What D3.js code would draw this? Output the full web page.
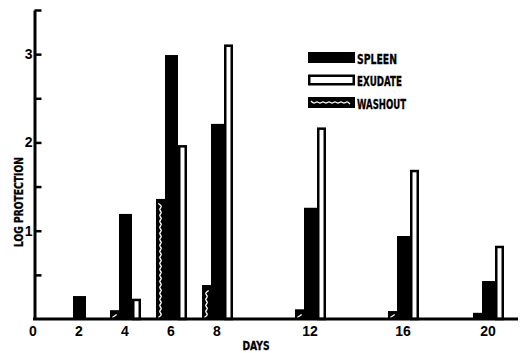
<!DOCTYPE html>
<html>
<head>
<meta charset="utf-8">
<script src="https://cdn.jsdelivr.net/npm/d3@7"></script>
<style>
  body { margin: 0; background: #fff; }
  svg { display: block; }
  .lbl { font-family: "DejaVu Sans Condensed", "Liberation Sans Narrow", sans-serif; font-weight: bold; stroke: #000; stroke-width: 0.3px; }
  .num { font-family: "Liberation Sans", Arial, sans-serif; font-weight: bold; font-size: 14px; }
</style>
</head>
<body>
<svg id="chart"></svg>
<script>
'use strict';
// data
var days = [2, 4, 6, 8, 12, 16, 20];
var spleen = [0.26, 1.19, 2.99, 2.21, 1.26, 0.94, 0.43];
var exudate = [null, 0.23, 1.97, 3.11, 2.17, 1.69, 0.83];
var washout = [null, 0.10, 1.36, 0.385, 0.11, 0.09, 0.07];
var xTickDays = [0, 2, 4, 6, 8, 12, 16, 20];
var yTickVals = [0.5, 1, 1.5, 2, 2.5, 3, 3.5];
var seriesNames = ['SPLEEN', 'EXUDATE', 'WASHOUT'];

var W = 526, H = 353;
var svg = d3.select('#chart').attr('width', W).attr('height', H);

// the printed day axis is not quite uniform, so the scale is piecewise
var x = d3.scaleLinear().domain([0, 8, 16, 20]).range([33, 217, 403, 488]);
var y = d3.scaleLinear().domain([0, 3.5]).range([319, 10]);

// bar layout relative to the day position (spleen is centred on the day)
var layout = {
    washout: { off: -15, w: 9 },
    spleen: { off: -6, w: 13 },
    exudate: { off: 7, w: 9 }
};

function wavy(x0, y0, x1, y1, vertical, amp, step) {
    var pts = [];
    var i = 0;
    if (vertical) {
        var cx = (x0 + x1) / 2;
        for (var yy = y1; yy >= y0; yy -= step) { pts.push([cx + (i++ % 2 ? amp : -amp), yy]); }
    } else {
        var cy = (y0 + y1) / 2;
        for (var xx = x0; xx <= x1; xx += step) { pts.push([xx, cy + (i++ % 2 ? amp : -amp)]); }
    }
    return d3.line().curve(d3.curveBasis)(pts);
}

var g = svg.append('g');

// washout bars
days.forEach(function(d, i) {
    if (washout[i] == null) return;
    var x0 = x(d) + layout.washout.off, x1 = x0 + layout.washout.w;
    var top = y(washout[i]), bot = y(0);
    g.append('rect').attr('x', x0).attr('y', top).attr('width', x1 - x0).attr('height', bot - top).attr('fill', '#000');
    if (bot - top > 4) {
        g.append('path')
            .attr('d', wavy(x0, top + 2.5, x1, bot - 1.5, true, 2.2, 3))
            .attr('fill', 'none').attr('stroke', '#fff').attr('stroke-width', 1.3);
    }
});

// spleen bars
days.forEach(function(d, i) {
    if (spleen[i] == null) return;
    var x0 = x(d) + layout.spleen.off;
    g.append('rect').attr('x', x0).attr('y', y(spleen[i]))
        .attr('width', layout.spleen.w).attr('height', y(0) - y(spleen[i])).attr('fill', '#000');
});

// exudate bars (open)
var sw = 2.5;
days.forEach(function(d, i) {
    if (exudate[i] == null) return;
    var x0 = x(d) + layout.exudate.off;
    g.append('rect').attr('x', x0 + sw / 2).attr('y', y(exudate[i]) + sw / 2)
        .attr('width', layout.exudate.w - sw).attr('height', y(0) - y(exudate[i]) - sw / 2)
        .attr('fill', '#fff').attr('stroke', '#000').attr('stroke-width', sw);
});

// y axis
var yAxis = d3.axisLeft(y)
    .tickValues(yTickVals)
    .tickSizeInner(-7)
    .tickSizeOuter(0)
    .tickPadding(2)
    .tickFormat(function(v) { return Number.isInteger(v) ? v : ''; });
var ya = svg.append('g').attr('transform', 'translate(34.5,0)').call(yAxis);
ya.select('.domain').attr('stroke', '#000').attr('stroke-width', 3);
ya.selectAll('.tick line').attr('stroke', '#000').attr('stroke-width', 2.5);
ya.selectAll('.tick text').attr('class', 'num').attr('fill', '#000').attr('font-size', null).attr('font-family', null);

// x axis
svg.append('line').attr('x1', 33).attr('x2', 518).attr('y1', y(0)).attr('y2', y(0))
    .attr('stroke', '#000').attr('stroke-width', 3);
svg.append('g').selectAll('text').data(xTickDays).enter().append('text')
    .attr('class', 'num')
    .attr('x', function(d) { return x(d); })
    .attr('y', 336)
    .attr('text-anchor', 'middle')
    .text(function(d) { return d; });

// axis titles
svg.append('text').attr('class', 'lbl').attr('x', 256).attr('y', 350)
    .attr('text-anchor', 'middle').attr('font-size', 12)
    .attr('textLength', 27).attr('lengthAdjust', 'spacingAndGlyphs').text('DAYS');
svg.append('text').attr('class', 'lbl')
    .attr('transform', 'translate(23,202) rotate(-90)')
    .attr('text-anchor', 'middle').attr('font-size', 11.5)
    .attr('textLength', 90).attr('lengthAdjust', 'spacingAndGlyphs').text('LOG PROTECTION');

// legend
var legend = svg.append('g').attr('transform', 'translate(308,52)');
var textLens = [40, 45, 49];
seriesNames.forEach(function(name, i) {
    var row = legend.append('g').attr('transform', 'translate(0,' + (i * 22.5) + ')');
    if (name === 'SPLEEN') {
        row.append('rect').attr('width', 47).attr('height', 11).attr('fill', '#000');
    } else if (name === 'EXUDATE') {
        row.append('rect').attr('x', 1.25).attr('y', 1.25).attr('width', 44.5).attr('height', 8.5)
            .attr('fill', '#fff').attr('stroke', '#000').attr('stroke-width', 2.5);
    } else {
        row.append('rect').attr('width', 47).attr('height', 11).attr('fill', '#000');
        row.append('path').attr('d', wavy(3, 2.5, 44, 8.5, false, 1.6, 3))
            .attr('fill', 'none').attr('stroke', '#fff').attr('stroke-width', 1.3);
    }
    row.append('text').attr('class', 'lbl').attr('x', 49).attr('y', 11.5)
        .attr('font-size', 13.5)
        .attr('textLength', textLens[i]).attr('lengthAdjust', 'spacingAndGlyphs')
        .text(name);
});
</script>
</body>
</html>
